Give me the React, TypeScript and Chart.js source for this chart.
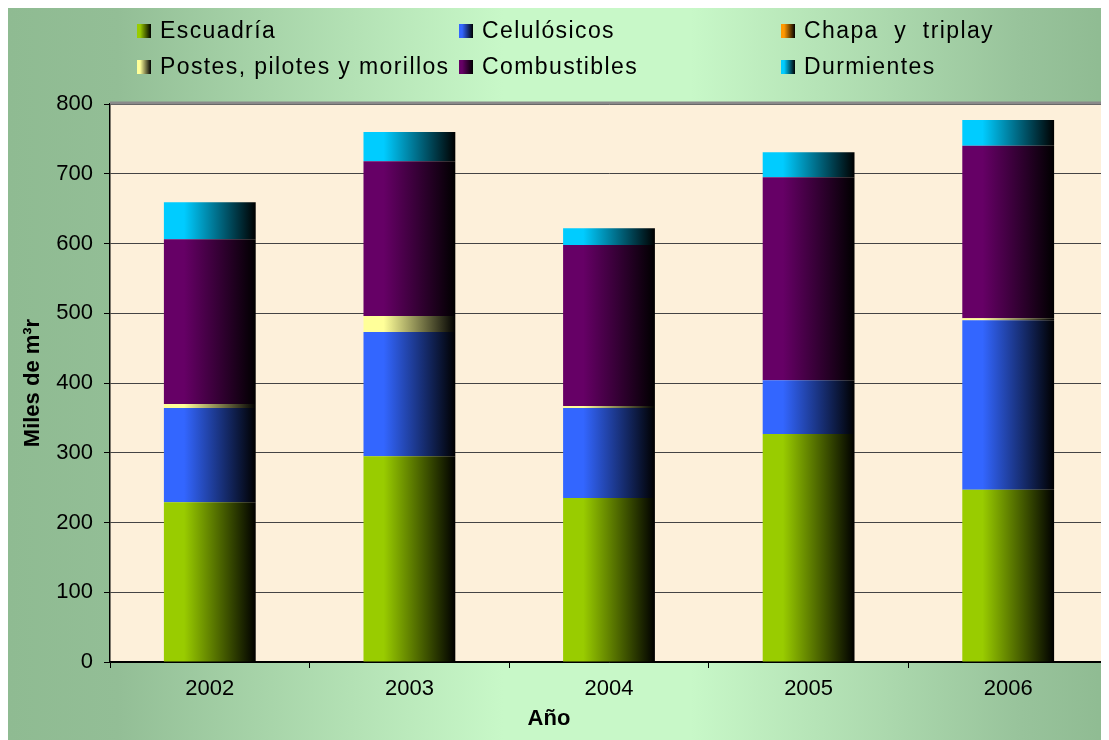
import React, { useEffect, useRef } from "react";
import { Chart, registerables } from "chart.js";

Chart.register(...registerables);

const categories = ["2002", "2003", "2004", "2005", "2006"];
const escuadria = [229, 295, 235, 327, 247];
const celulosicos = [135, 178, 129, 77, 243];
const chapa = [0, 0, 0, 0, 0];
const postes = [6, 23, 3, 0, 3];
const combustibles = [236, 222, 231, 291, 247];
const durmientes = [53, 42, 24, 36, 37];

const seriesNames = [
  "Escuadría",
  "Celulósicos",
  "Chapa  y  triplay",
  "Postes, pilotes y morillos",
  "Combustibles",
  "Durmientes",
];
const seriesColors = ["#99cc00", "#3366ff", "#ff9900", "#ffff99", "#660066", "#00ccff"];
const yTicks = [0, 100, 200, 300, 400, 500, 600, 700, 800];
const xTitle = "Año";
const yTitle = "Miles de m³r";

const BAR_FRACTION = 0.46;

function hGrad(ctx: CanvasRenderingContext2D, x0: number, x1: number, color: string) {
  const g = ctx.createLinearGradient(x0, 0, x1, 0);
  g.addColorStop(0, color);
  g.addColorStop(0.22, color);
  g.addColorStop(1, "#000000");
  return g;
}

const decorPlugin = {
  id: "decor",
  beforeDraw(chart: any) {
    const { ctx, width, height, chartArea } = chart;
    ctx.save();
    const g = ctx.createLinearGradient(0, 0, width, 0);
    g.addColorStop(0, "#8fbb92");
    g.addColorStop(0.1, "#93be96");
    g.addColorStop(0.45, "#c8f8c8");
    g.addColorStop(0.62, "#c8f8c8");
    g.addColorStop(0.92, "#98c39b");
    g.addColorStop(1, "#8fbb92");
    ctx.fillStyle = g;
    ctx.fillRect(0, 0, width, height);
    ctx.fillStyle = "#fdf0da";
    ctx.fillRect(chartArea.left, chartArea.top, chartArea.right - chartArea.left, chartArea.bottom - chartArea.top);
    ctx.restore();
  },
  afterDraw(chart: any) {
    const { ctx, chartArea } = chart;
    ctx.save();
    ctx.strokeStyle = "#8a8a8a";
    ctx.lineWidth = 3;
    ctx.beginPath();
    ctx.moveTo(chartArea.left, chartArea.top - 1);
    ctx.lineTo(chartArea.right + 1, chartArea.top - 1);
    ctx.lineTo(chartArea.right + 1, chartArea.bottom);
    ctx.stroke();

    // legend
    const cols = [129, 451, 773];
    const rows = [23, 59];
    ctx.font = "23px 'Liberation Sans', Arial, sans-serif";
    (ctx as any).letterSpacing = "1.4px";
    ctx.textBaseline = "middle";
    ctx.textAlign = "left";
    seriesNames.forEach((name, i) => {
      const cx = cols[i % 3];
      const cy = rows[Math.floor(i / 3)];
      ctx.fillStyle = hGrad(ctx, cx, cx + 14, seriesColors[i]);
      ctx.fillRect(cx, cy - 7, 14, 14);
      ctx.fillStyle = "#000000";
      ctx.fillText(name, cx + 23, cy + 1);
    });
    (ctx as any).letterSpacing = "0px";

    // x title
    ctx.font = "bold 22px 'Liberation Sans', Arial, sans-serif";
    ctx.textAlign = "center";
    ctx.fillStyle = "#000000";
    ctx.fillText(xTitle, 541, 711);
    ctx.restore();
  },
};

export default function App() {
  const ref = useRef<HTMLCanvasElement | null>(null);
  useEffect(() => {
    if (!ref.current) return;
    const data = [escuadria, celulosicos, chapa, postes, combustibles, durmientes];
    const chart = new Chart(ref.current, {
      type: "bar",
      data: {
        labels: categories,
        datasets: data.map((vals, i) => ({
          label: seriesNames[i],
          data: vals,
          borderWidth: 0,
          categoryPercentage: 1,
          barPercentage: BAR_FRACTION,
          backgroundColor: (c: any) => {
            const ch = c.chart;
            const xs = ch.scales && ch.scales.x;
            if (!ch.chartArea || !xs) return seriesColors[i];
            const center = xs.getPixelForValue(c.dataIndex);
            const half = ((xs.right - xs.left) / categories.length) * BAR_FRACTION / 2;
            return hGrad(ch.ctx, center - half, center + half, seriesColors[i]);
          },
        })),
      },
      options: {
        responsive: false,
        animation: false,
        layout: { padding: { top: 96, right: 1, left: 0, bottom: 0 } },
        plugins: {
          legend: { display: false },
          tooltip: { enabled: false },
        },
        scales: {
          x: {
            stacked: true,
            offset: true,
            afterFit: (s: any) => {
              s.height = 78;
            },
            grid: {
              display: true,
              drawOnChartArea: false,
              drawTicks: true,
              tickLength: 6,
              color: "#000000",
              offset: true,
            },
            border: { color: "#000000", width: 1.5 },
            ticks: {
              color: "#000000",
              padding: 8,
              font: { family: "'Liberation Sans', Arial, sans-serif", size: 22 },
            },
          },
          y: {
            stacked: true,
            min: 0,
            max: 800,
            afterFit: (s: any) => {
              s.width = 102;
            },
            afterBuildTicks: (s: any) => {
              s.ticks = yTicks.map((v) => ({ value: v }));
            },
            grid: {
              color: (c: any) => (c.tick && c.tick.value === 0 ? "#000000" : "#444444"),
              tickColor: "#000000",
              tickLength: 6,
              lineWidth: 1,
            },
            border: { color: "#000000", width: 1.5 },
            ticks: {
              color: "#000000",
              padding: 11,
              font: { family: "'Liberation Sans', Arial, sans-serif", size: 22 },
            },
            title: {
              display: true,
              text: yTitle,
              color: "#000000",
              padding: { top: 12, bottom: 0 },
              font: { family: "'Liberation Sans', Arial, sans-serif", size: 22, weight: "bold" },
            },
          },
        },
      },
      plugins: [decorPlugin],
    } as any);
    return () => chart.destroy();
  }, []);
  return (
    <div style={{ width: 1101, height: 732 }}>
      <canvas ref={ref} width={1101} height={732} style={{ display: "block" }} />
    </div>
  );
}
